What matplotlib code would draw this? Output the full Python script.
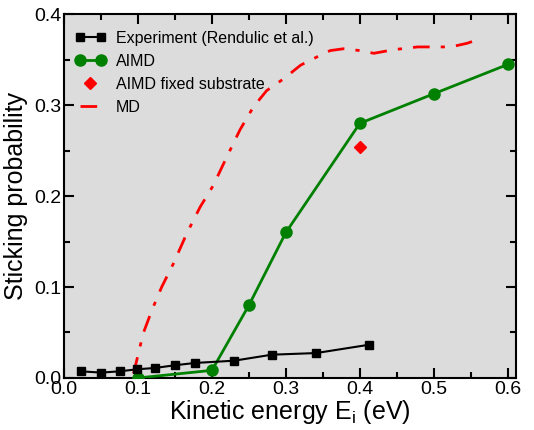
import matplotlib
matplotlib.use("Agg")
import matplotlib.pyplot as plt
from matplotlib.legend_handler import HandlerLine2D
from matplotlib.ticker import MultipleLocator

plt.rcParams['font.family'] = ['Liberation Sans', 'DejaVu Sans']

exp_x = [0.023, 0.05, 0.075, 0.098, 0.123, 0.15, 0.177, 0.23, 0.281, 0.341, 0.413]
exp_y = [0.0073, 0.0059, 0.0073, 0.0095, 0.011, 0.014, 0.0165, 0.019, 0.0256, 0.0274, 0.0366]

aimd_x = [0.1, 0.2, 0.25, 0.3, 0.4, 0.5, 0.6]
aimd_y = [0.0, 0.0084, 0.080, 0.160, 0.280, 0.3125, 0.3447]

fixed_x = [0.4]
fixed_y = [0.2536]

md_x = [0.094, 0.107, 0.119, 0.132, 0.148, 0.166, 0.184, 0.202, 0.22, 0.238, 0.256,
        0.274, 0.297, 0.32, 0.342, 0.36, 0.378, 0.4, 0.419, 0.446, 0.478, 0.5,
        0.523, 0.545, 0.563]
md_y = [0.005, 0.049, 0.075, 0.10, 0.126, 0.159, 0.188, 0.212, 0.243, 0.273, 0.298,
        0.316, 0.329, 0.344, 0.353, 0.36, 0.362, 0.36, 0.357, 0.361, 0.364, 0.364,
        0.364, 0.368, 0.373]

fig = plt.figure(figsize=(5.34, 4.30), dpi=100)
ax = fig.add_axes([0.12, 0.121, 0.846, 0.846])
ax.set_facecolor('#dcdcdc')

l1, = ax.plot(exp_x, exp_y, color='black', lw=1.5, marker='s', ms=5.5,
              label='Experiment (Rendulic et al.)', zorder=4)
l2, = ax.plot(aimd_x, aimd_y, color='#008000', lw=2, marker='o', ms=8,
              label='AIMD', zorder=3)
l3, = ax.plot(fixed_x, fixed_y, color='red', lw=0, marker='D', ms=6.5,
              label='AIMD fixed substrate', zorder=3)
l4, = ax.plot(md_x, md_y, color='red', lw=2, dashes=(6, 4, 1.5, 4),
              label='MD', zorder=2)

ax.set_xlim(0, 0.611)
ax.set_ylim(0, 0.4)
ax.xaxis.set_major_locator(MultipleLocator(0.1))
ax.xaxis.set_minor_locator(MultipleLocator(0.05))
ax.yaxis.set_major_locator(MultipleLocator(0.1))
ax.yaxis.set_minor_locator(MultipleLocator(0.05))
ax.xaxis.set_major_formatter(matplotlib.ticker.FormatStrFormatter('%.1f'))
ax.yaxis.set_major_formatter(matplotlib.ticker.FormatStrFormatter('%.1f'))
ax.tick_params(which='both', direction='in', top=True, right=True, width=1.5,
               labelsize=14, pad=2)
ax.tick_params(which='major', length=7)
ax.tick_params(which='minor', length=4)
for s in ax.spines.values():
    s.set_linewidth(1.5)

ax.set_xlabel('Kinetic energy E$_\\mathregular{i}$ (eV)', fontsize=18, labelpad=0)
ax.set_ylabel('Sticking probability', fontsize=18, labelpad=4)

ax.legend(handles=[l1, l2, l3, l4], loc='upper left', frameon=False, fontsize=11.5,
          numpoints=2, handlelength=1.95, handletextpad=0.6, borderaxespad=0,
          borderpad=0, labelspacing=0.5, bbox_to_anchor=(0.024, 0.954),
          handler_map={l3: HandlerLine2D(numpoints=1)})

fig.savefig('out.png', dpi=100)
